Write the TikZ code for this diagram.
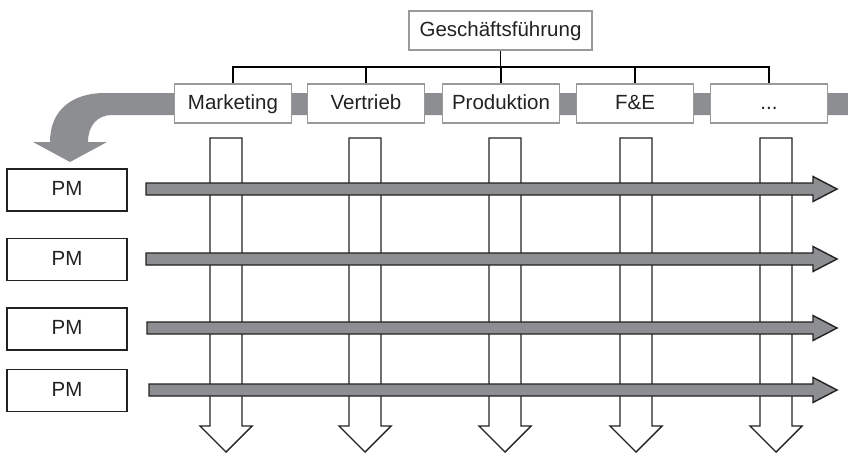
\documentclass[tikz,border=0pt]{standalone}
\usepackage{fontspec}
\setmainfont{Liberation Sans}
\definecolor{band}{HTML}{8D8E91}
\definecolor{ink}{HTML}{222222}
\definecolor{lightframe}{HTML}{9A9A9A}
\begin{document}
\begin{tikzpicture}[x=1pt,y=-1pt,
  font=\fontsize{20.5}{24}\selectfont,
  deptbox/.style={draw=lightframe,line width=1.4pt,fill=white,minimum width=117pt,minimum height=39pt,inner sep=0pt,text=ink,text height=14.5pt,text depth=3pt},
  pmbox/.style={draw=ink,line width=1.4pt,fill=white,minimum width=120pt,minimum height=42pt,inner sep=0pt,text=ink,text height=14.5pt,text depth=3pt},
  orgline/.style={draw=black,line width=1.1pt},
  bandshape/.style={fill=band,draw=none},
  varrow/.style={draw=ink,line width=1.4pt,fill=white,line join=miter},
  harrow/.style={draw=ink,line width=1.4pt,fill=band,line join=miter}]
\useasboundingbox (0,0) rectangle (848,453);

% gray band with bent arrow
\path[bandshape] (848,93) -- (105,93) .. controls (72,93) and (50,110) .. (50,142)
  -- (33,142) -- (70,162) -- (107,142) -- (88,142)
  .. controls (88,126) and (97,115) .. (112,115) -- (848,115) -- cycle;

% org chart
\node[deptbox,minimum width=183pt] (gf) at (500.5,30.5) {Geschäftsführung};
\node[deptbox] (mkt) at (233,103.5) {Marketing};
\node[deptbox] (vt) at (366,103.5) {Vertrieb};
\node[deptbox] (prod) at (501,103.5) {Produktion};
\node[deptbox] (fe) at (635,103.5) {F\&E};
\node[deptbox] (etc) at (769,103.5) {...};

\coordinate (bus) at (0,67);
\draw[orgline] (gf.south) -- (gf.south |- bus);
\draw[orgline] (mkt.north) -- (mkt.north |- bus) -- (etc.north |- bus) -- (etc.north);
\foreach \d in {vt,prod,fe} \draw[orgline] (\d |- bus) -- (\d.north);

% vertical arrows
\foreach \cx [count=\i] in {226,365,505,636,776} {
  \coordinate (v\i) at (\cx,138);
  \draw[varrow] (\cx-16,138) -- (\cx+16,138) -- (\cx+16,426) -- (\cx+26,426)
     -- (\cx,452) -- (\cx-26,426) -- (\cx-16,426) -- cycle;
}

% PM boxes and horizontal arrows
\foreach \py/\ay/\ax [count=\i] in {190/189/146, 259.5/259/146, 329/328/147, 390.5/390/149} {
  \node[pmbox] (pm\i) at (67,\py) {PM};
  \draw[harrow] (\ax,\ay-6) -- (813,\ay-6) -- (813,\ay-12.5) -- (837,\ay)
     -- (813,\ay+12.5) -- (813,\ay+6) -- (\ax,\ay+6) -- cycle;
}
\end{tikzpicture}
\end{document}
